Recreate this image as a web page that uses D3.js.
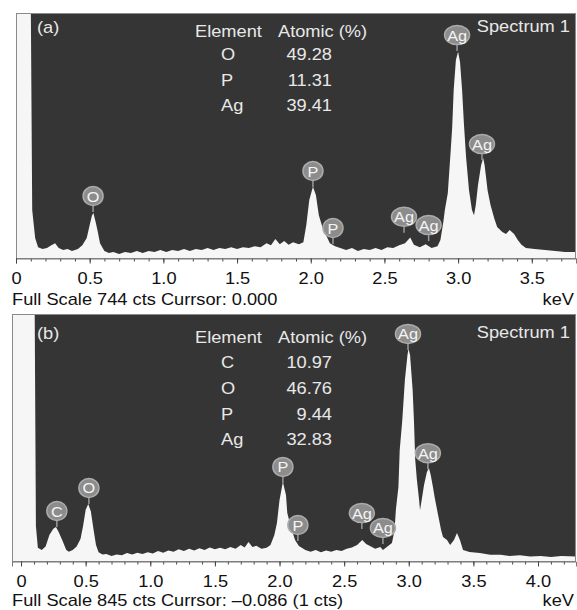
<!DOCTYPE html>
<html>
<head>
<meta charset="utf-8">
<script src="https://cdn.jsdelivr.net/npm/d3@7"></script>
<style>
body { margin: 0; background: #fff; }
text { font-family: "Liberation Sans", Arial, sans-serif; }
</style>
</head>
<body>
<div id="chart"></div>
<script>
// ---- spectrum (a): energy in keV, counts ----
var energyA = [0, 0.10, 0.11, 0.13, 0.15, 0.18, 0.21, 0.24, 0.265, 0.29, 0.32, 0.35, 0.38, 0.42, 0.45, 0.48, 0.50, 0.515, 0.525, 0.54,
  0.555, 0.57, 0.60, 0.63, 0.66, 0.70, 0.74, 0.78, 0.82, 0.86, 0.90, 0.94, 0.98, 1.02, 1.06, 1.10, 1.14, 1.18, 1.22, 1.26,
  1.30, 1.34, 1.38, 1.42, 1.46, 1.50, 1.54, 1.58, 1.62, 1.66, 1.70, 1.73, 1.76, 1.79, 1.82, 1.85, 1.88, 1.92, 1.95, 1.97,
  1.99, 2.015, 2.035, 2.055, 2.085, 2.11, 2.13, 2.165, 2.20, 2.24, 2.28, 2.32, 2.36, 2.40, 2.44, 2.48, 2.52, 2.56, 2.60, 2.64,
  2.675, 2.70, 2.74, 2.78, 2.82, 2.86, 2.88, 2.90, 2.91, 2.93, 2.95, 2.96, 2.97, 2.985, 3.00, 3.013, 3.027, 3.04, 3.054, 3.074,
  3.094, 3.108, 3.12, 3.135, 3.156, 3.17, 3.18, 3.20, 3.22, 3.245, 3.265, 3.30, 3.325, 3.35, 3.38, 3.405, 3.43, 3.46, 3.52, 3.59,
  3.66, 3.725, 3.80];
var countsA = [800, 800, 146, 61, 33, 27, 30, 39, 45, 30, 24, 27, 21, 27, 39, 61, 100, 128, 137, 110,
  80, 45, 21, 15, 18, 12, 18, 15, 21, 15, 21, 18, 24, 18, 24, 21, 27, 21, 27, 24,
  30, 24, 30, 27, 33, 27, 33, 30, 36, 33, 45, 39, 58, 42, 52, 40, 48, 42, 48, 100,
  176, 216, 191, 130, 85, 64, 45, 36, 30, 24, 30, 21, 27, 24, 30, 24, 33, 30, 39, 45,
  62, 40, 33, 42, 30, 36, 55, 110, 146, 197, 328, 398, 510, 601, 626, 595, 510, 404, 307, 206,
  146, 130, 161, 222, 282, 304, 282, 206, 161, 121, 94, 79, 73, 85, 73, 55, 40, 30, 27, 24,
  21, 18, 18];

// ---- spectrum (b) ----
var energyB = [-0.07, 0.105, 0.115, 0.13, 0.16, 0.19, 0.22, 0.25, 0.27, 0.29, 0.32, 0.35, 0.37, 0.40, 0.43, 0.46, 0.48, 0.50, 0.52, 0.54,
  0.56, 0.58, 0.60, 0.63, 0.66, 0.70, 0.74, 0.78, 0.82, 0.86, 0.90, 0.94, 0.98, 1.02, 1.06, 1.10, 1.14, 1.18, 1.22, 1.26,
  1.30, 1.34, 1.38, 1.42, 1.46, 1.50, 1.54, 1.58, 1.62, 1.66, 1.70, 1.73, 1.76, 1.79, 1.82, 1.86, 1.90, 1.93, 1.96, 1.98,
  2.00, 2.026, 2.05, 2.06, 2.09, 2.12, 2.15, 2.20, 2.24, 2.28, 2.32, 2.36, 2.40, 2.44, 2.48, 2.52, 2.56, 2.60, 2.64, 2.67,
  2.70, 2.74, 2.78, 2.80, 2.83, 2.87, 2.89, 2.90, 2.92, 2.93, 2.95, 2.97, 2.99, 2.998, 3.01, 3.03, 3.04, 3.05, 3.063, 3.08,
  3.087, 3.10, 3.118, 3.14, 3.156, 3.17, 3.187, 3.20, 3.227, 3.25, 3.265, 3.296, 3.32, 3.35, 3.373, 3.396, 3.42, 3.47, 3.55, 3.63,
  3.71, 3.78, 3.86, 3.94, 4.02, 4.10, 4.18, 4.294];
var countsB = [900, 900, 120, 45, 38, 50, 90, 110, 116, 100, 70, 38, 32, 38, 50, 75, 120, 175, 195, 170,
  110, 55, 30, 22, 24, 17, 22, 20, 27, 22, 28, 24, 30, 26, 34, 28, 36, 32, 40, 34,
  42, 36, 44, 38, 46, 40, 45, 40, 48, 42, 55, 46, 65, 48, 52, 42, 45, 55, 89, 130,
  209, 270, 226, 164, 113, 72, 51, 38, 32, 38, 30, 36, 32, 38, 34, 42, 46, 55, 72, 58,
  51, 42, 48, 38, 48, 62, 106, 174, 253, 380, 482, 619, 705, 725, 705, 585, 482, 346, 277, 209,
  174, 209, 260, 304, 318, 294, 253, 219, 157, 106, 82, 72, 55, 72, 96, 72, 38, 31, 27, 21,
  21, 17, 20, 15, 17, 14, 17, 15];

// ---- quantification tables ----
var elementsA = ["O", "P", "Ag"];
var atomicA = ["49.28", "11.31", "39.41"];
var elementsB = ["C", "O", "P", "Ag"];
var atomicB = ["10.97", "46.76", "9.44", "32.83"];

// ---- peak markers: [element, energy keV, marker height in counts] ----
var markersA = [["O", 0.523, 188], ["P", 2.015, 264], ["P", 2.151, 91], ["Ag", 2.633, 125],
  ["Ag", 2.80, 100], ["Ag", 2.993, 677], ["Ag", 3.162, 346]];
var markersB = [["C", 0.277, 171], ["O", 0.525, 250], ["P", 2.026, 322], ["P", 2.142, 123],
  ["Ag", 2.637, 164], ["Ag", 2.80, 113], ["Ag", 2.994, 777], ["Ag", 3.148, 369]];

// ---- axis ticks ----
var majorTicksA = [0, 0.5, 1.0, 1.5, 2.0, 2.5, 3.0, 3.5];
var majorTicksB = [0, 0.5, 1.0, 1.5, 2.0, 2.5, 3.0, 3.5, 4.0];

var panels = [
  {id: "a", energy: energyA, counts: countsA, domain: [0, 3.8], full: 744,
   left: 16, right: 576, top: 13, base: 258, tag: "(a)",
   elements: elementsA, atomic: atomicA, markers: markersA, ticks: majorTicksA,
   rows: [37, 60, 86, 111], foot: "Full Scale 744 cts Currsor: 0.000", footY: 305},
  {id: "b", energy: energyB, counts: countsB, domain: [-0.07, 4.294], full: 845,
   left: 12, right: 576, top: 314, base: 561, tag: "(b)",
   elements: elementsB, atomic: atomicB, markers: markersB, ticks: majorTicksB,
   rows: [343, 368, 394, 420, 445], foot: "Full Scale 845 cts Currsor: \u20130.086 (1 cts)", footY: 606}
];

var svg = d3.select("#chart").append("svg")
  .attr("width", 577)
  .attr("height", 610);

// text is a little wider than the stock font, so stretch it horizontally
var SX = 1.14;
function txt(g, x, y, s, anchor, size, color) {
  return g.append("text")
    .attr("transform", "translate(" + x + "," + y + ") scale(" + SX + ",1)")
    .attr("text-anchor", anchor || "start")
    .style("font-size", (size || 16) + "px")
    .style("fill", color || "#111")
    .text(s);
}

panels.forEach(function(p) {
  var x = d3.scaleLinear().domain(p.domain).range([p.left, p.right]);
  var y = d3.scaleLinear().domain([0, p.full]).range([p.base, p.top]);
  var g = svg.append("g");

  g.append("clipPath").attr("id", "clip-" + p.id)
    .append("rect")
    .attr("x", p.left).attr("y", p.top)
    .attr("width", p.right - p.left).attr("height", p.base - p.top);

  // dark plot background
  g.append("rect")
    .attr("x", p.left).attr("y", p.top)
    .attr("width", p.right - p.left).attr("height", p.base - p.top)
    .style("fill", "#353535");

  var pts = p.energy.map(function(e, i) { return [e, p.counts[i]]; });
  var area = d3.area()
    .x(function(d) { return x(d[0]); })
    .y0(y(0))
    .y1(function(d) { return y(d[1]); });

  g.append("path")
    .datum(pts)
    .attr("clip-path", "url(#clip-" + p.id + ")")
    .attr("d", area)
    .style("fill", "#f6f6f6");

  // frame
  g.append("rect")
    .attr("x", p.left + 0.5).attr("y", p.top + 0.5)
    .attr("width", p.right - p.left - 1).attr("height", p.base - p.top)
    .style("fill", "none")
    .style("stroke", "#8a8a8a");

  // minor ticks every 0.1 keV
  var minor = d3.range(Math.ceil(p.domain[0] * 10), Math.floor(p.domain[1] * 10) + 1)
    .map(function(v) { return v / 10; });
  var minorAxis = g.append("g")
    .attr("transform", "translate(0," + (p.base + 0.5) + ")")
    .call(d3.axisBottom(x).tickValues(minor).tickSize(3).tickFormat(""));
  minorAxis.select(".domain").remove();
  minorAxis.selectAll("line").style("stroke", "#444");

  var majorAxis = g.append("g")
    .attr("transform", "translate(0," + (p.base + 0.5) + ")")
    .call(d3.axisBottom(x).tickValues(p.ticks).tickSize(5).tickPadding(9)
      .tickFormat(function(d) { return d === 0 ? "0" : d.toFixed(1); }));
  majorAxis.select(".domain").style("stroke", "#777");
  majorAxis.selectAll("line").style("stroke", "#444");
  majorAxis.selectAll("text")
    .attr("transform", "scale(" + SX + ",1)")
    .style("font-size", "16px")
    .style("fill", "#111")
    .style("font-family", "Liberation Sans, Arial, sans-serif");

  // peak markers
  p.markers.forEach(function(m) {
    var cx = x(m[1]), cy = y(m[2]);
    var rx = m[0].length > 1 ? 12.5 : 10;
    g.append("line")
      .attr("x1", cx).attr("x2", cx)
      .attr("y1", cy + 8).attr("y2", cy + 16)
      .style("stroke", "#9a9a9a").style("stroke-width", 1.5);
    g.append("ellipse")
      .attr("cx", cx).attr("cy", cy)
      .attr("rx", rx).attr("ry", 9.5)
      .style("fill", "#8c8c8c")
      .style("stroke", "#ababab").style("stroke-width", 1.5);
    g.append("text")
      .attr("transform", "translate(" + cx + "," + (cy + 5.5) + ") scale(1.05,1)")
      .attr("text-anchor", "middle")
      .style("font-size", "15.5px")
      .style("fill", "#f4f4f4")
      .text(m[0]);
  });

  // annotations inside plot
  txt(g, 37, p.rows[0] - 4, p.tag, "start", 16, "#e8e8e8");
  txt(g, 570, p.rows[0] - 5, "Spectrum 1", "end", 16, "#e8e8e8");
  txt(g, 195, p.rows[0], "Element", "start", 16, "#e8e8e8");
  txt(g, 278, p.rows[0], "Atomic (%)", "start", 16, "#e8e8e8");
  p.elements.forEach(function(el, i) {
    txt(g, 221, p.rows[i + 1], el, "start", 16, "#e8e8e8");
    txt(g, 332, p.rows[i + 1], p.atomic[i], "end", 16, "#e8e8e8");
  });

  // footer
  txt(g, 12, p.footY, p.foot, "start", 16, "#111");
  txt(g, 574, p.footY, "keV", "end", 16, "#111");
});
</script>
</body>
</html>
